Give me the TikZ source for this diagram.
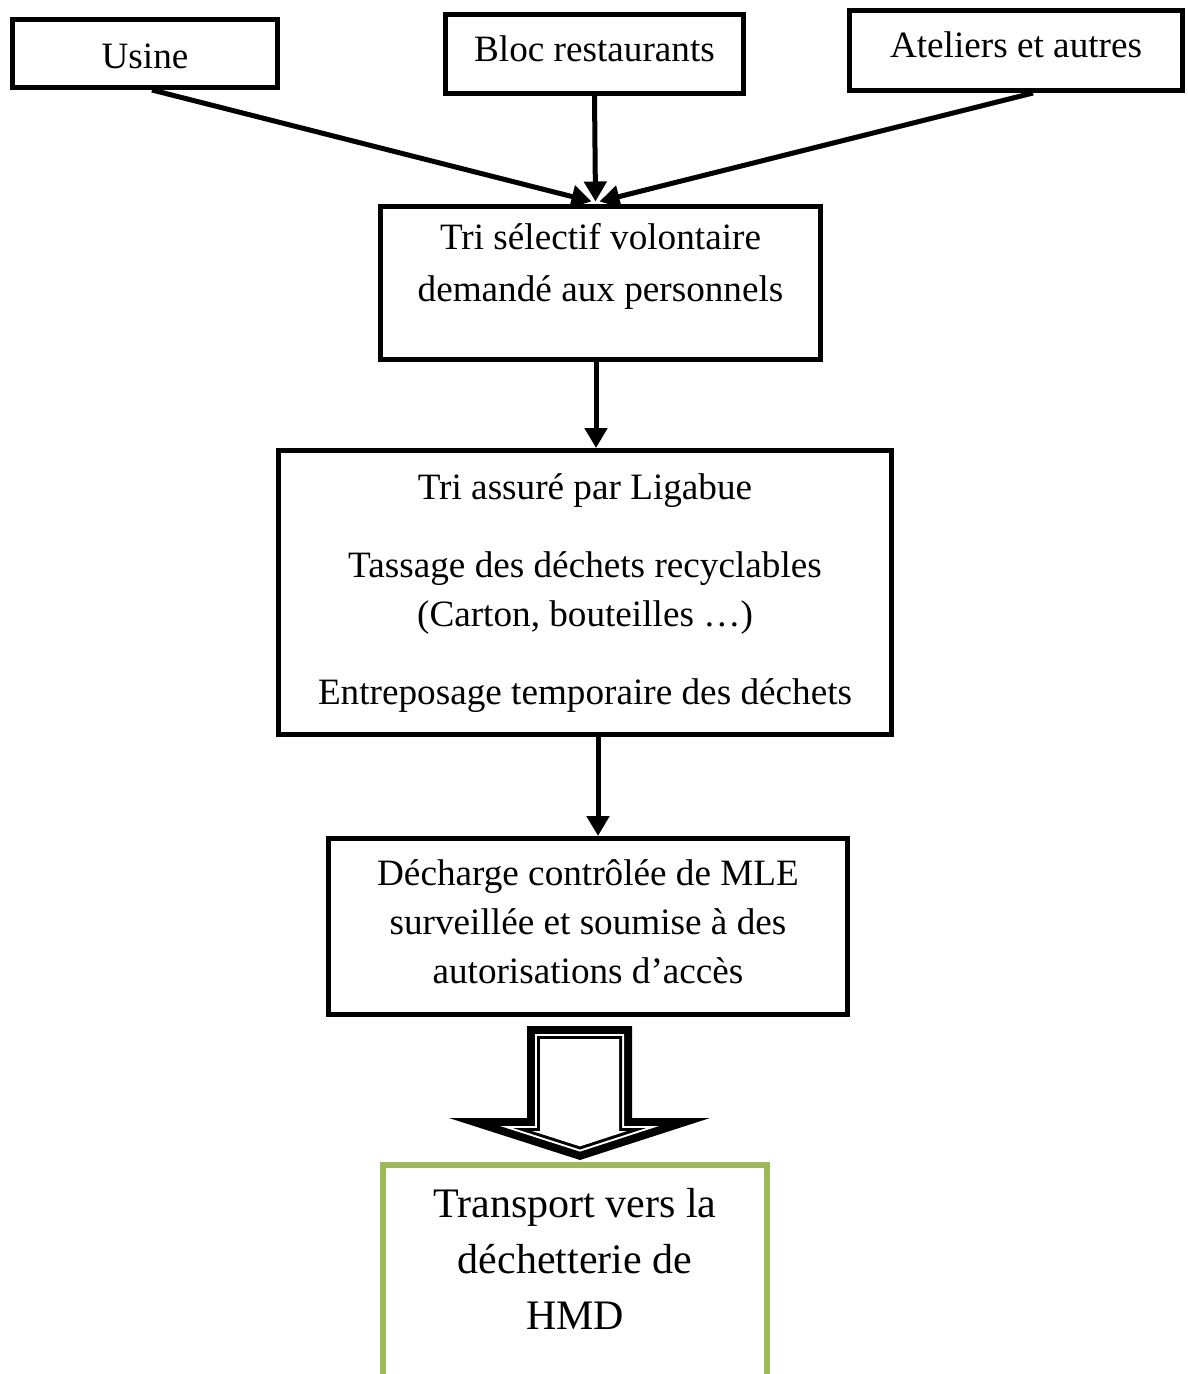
\documentclass[tikz,border=0pt]{standalone}
\usepackage{fontspec}
\setmainfont{Liberation Serif}
\usepackage{tikz}
\usetikzlibrary{arrows.meta,calc}
\definecolor{boxgreen}{HTML}{9BBB59}
\tikzset{
  box/.style={draw, line width=2.5pt, align=center, inner sep=0pt,
    font=\fontsize{18.6}{24.5}\selectfont},
  arr/.style={line width=2.5pt, -{Triangle[length=10pt,width=11pt]}},
}

\begin{document}
\begin{tikzpicture}[x=0.5pt, y=-0.5pt]
            \useasboundingbox (0,0) rectangle (1187,1374);
            \clip (0,0) rectangle (1187,1374);
              % sources
              \node [box, minimum width=132.5pt, minimum height=34pt, text height=15pt] (usine) at (145,53.5) {Usine};
              \node [box, minimum width=149pt, minimum height=39.5pt, text depth=5pt] (bloc) at (594.5,54) {Bloc restaurants};
              \node [box, minimum width=166.5pt, minimum height=40pt, text depth=5.5pt] (ateliers) at (1016,50.5) {Ateliers et autres};
              % chain
              \node [box, minimum width=220pt, minimum height=76.5pt] (tri) at (600.5,283)
                {Tri sélectif volontaire\\[1.5pt]demandé aux personnels\\[-3.5pt]\mbox{}};
              \node [box, minimum width=306.5pt, minimum height=142pt] (assure) at (585,592.5)
                {Tri assuré par Ligabue\\[14.5pt]Tassage des déchets recyclables\\(Carton, bouteilles …)\\[14.5pt]Entreposage temporaire des déchets\\[-21pt]\mbox{}};
              \node [box, minimum width=259.5pt, minimum height=88pt] (decharge) at (588,926.5)
                {Décharge contrôlée de MLE\\surveillée et soumise à des\\autorisations d’accès\\[-20pt]\mbox{}};
              \node [align=center, inner sep=0pt, font=\fontsize{21}{28}\selectfont,
                minimum width=192pt, minimum height=94pt] (hmd) at (575,1259)
                {Transport vers la\\déchetterie de\\HMD};
              \coordinate (bottom) at (0,1390);
              \draw [boxgreen, line width=3pt] (hmd.north west |- bottom) -- (hmd.north west)
                -- (hmd.north east) -- (hmd.north east |- bottom);
              % connectors
              \coordinate (join) at ($(tri.north)+(-5,-2.5)$);
              \draw [arr] ($(usine.south)+(7,0)$) -- ($(join)+(-4,0)$);
              \draw [arr] (bloc.south) -- (join);
              \draw [arr] ($(ateliers.south)+(17,0)$) -- ($(join)+(4,0)$);
              \coordinate (m0) at ($(tri.south)+(-4.5,0)$);
              \draw [arr] (m0) -- (m0 |- assure.north);
              \coordinate (m1) at ($(assure.south)+(13,0)$);
              \draw [arr] (m1) -- (m1 |- decharge.north);
              % hollow arrow
              \foreach \d/\c in {0/black, 8/white, 10/black, 13/white}
                \fill [\c] ({527+\d},{1026+\d}) -- ({632-\d},{1026+\d}) -- ({632-\d},{1118+\d})
                  -- ({710-6.39*\d},{1118+\d}) -- (580,{1160-1.05*\d})
                  -- ({449+6.39*\d},{1118+\d}) -- ({527+\d},{1118+\d}) -- cycle;
\end{tikzpicture}
\end{document}
